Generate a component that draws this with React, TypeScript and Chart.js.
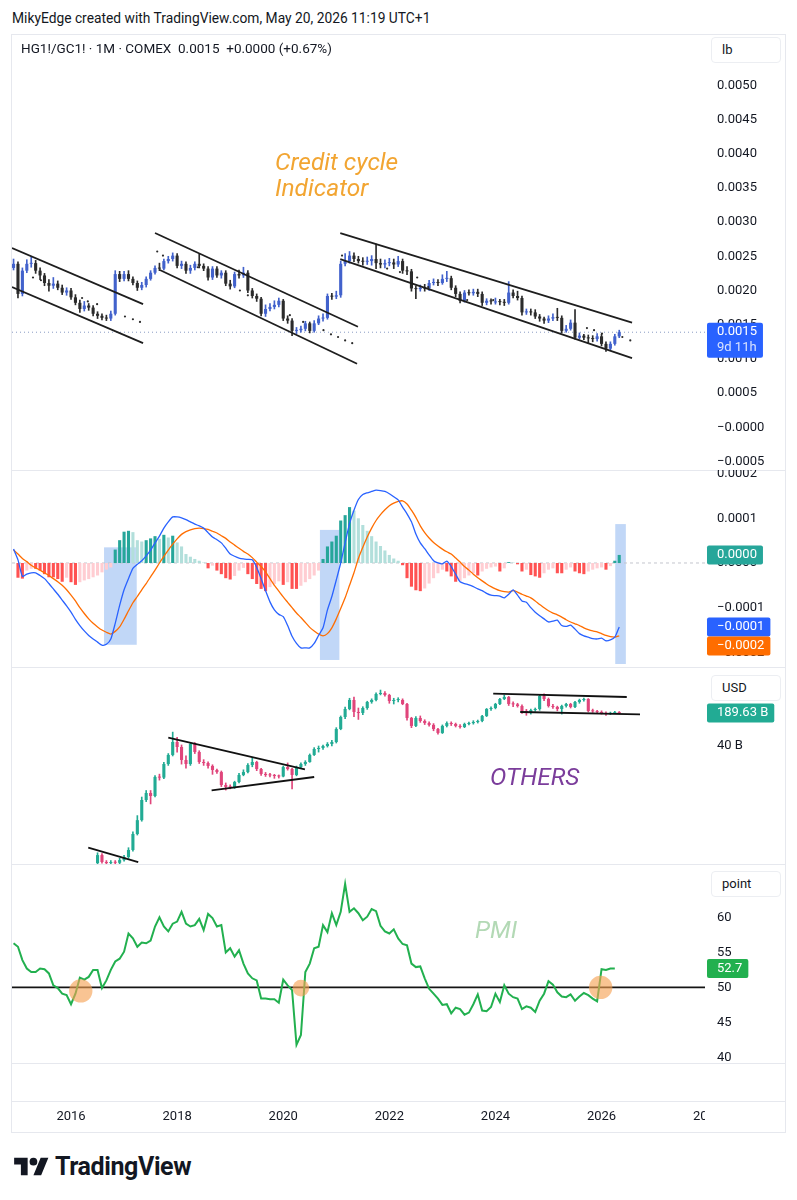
import React, { useEffect, useRef } from 'react';
import { Chart, registerables } from 'chart.js';

Chart.register(...registerables);

// ---------------- time axis: x values are months counted from Jan 2016 ----------------
const X_MIN = -13.35;
const X_MAX = 143.4;
const yearTickMonths = [0, 24, 48, 72, 96, 120, 144];
const yearTickLabels = ['2016', '2018', '2020', '2022', '2024', '2026', '2028'];

// ---------------- pane 1: HG1!/GC1! monthly candles (units of 0.0001) ----------------
const ratioStartMonth = -13; // Dec 2014
const ratioFirstOpen = 23.3;
const ratioClose = [
  23.9, 19.5, 22.9, 23.9, 24.0, 22.9, 22.2, 21.1, 20.7, 21.0, 20.4, 19.7, 20.0,
  19.0, 18.2, 17.3, 17.8, 17.5, 16.6, 16.3, 16.0, 15.9, 16.6, 22.4, 21.7,
  22.4, 21.7, 21.1, 20.4, 20.8, 21.7, 22.6, 23.3, 23.2, 24.3, 24.6, 25.1,
  23.6, 23.9, 22.9, 23.3, 23.9, 23.6, 23.2, 21.9, 23.2, 22.2, 22.6, 21.0,
  20.6, 22.4, 22.2, 22.6, 20.0, 19.2, 18.8, 16.6, 17.3, 17.6, 17.9, 18.5,
  15.9, 15.6, 14.1, 14.2, 14.4, 15.2, 14.1, 15.2, 15.9, 16.0, 19.2, 19.1,
  19.3, 23.9, 24.3, 25.1, 24.6, 24.3, 24.2, 24.3, 24.6, 24.0, 23.8, 24.0,
  24.1, 23.8, 24.3, 22.9, 22.8, 20.3, 20.2, 20.4, 20.3, 21.1, 21.2, 21.1,
  21.7, 21.8, 20.4, 19.5, 18.5, 19.7, 19.6, 19.8, 19.5, 18.2, 18.5, 18.4,
  18.4, 18.3, 18.2, 19.7, 19.2, 18.9, 16.8, 16.9, 16.8, 16.2, 15.9, 15.6,
  15.9, 16.1, 16.0, 14.1, 14.4, 15.3, 13.1, 13.4, 13.1, 13.0, 12.9, 13.3,
  12.2, 11.5, 12.2, 13.3, 13.9,
];
const ratioHigh = [
  24.6, 24.2, 23.3, 24.5, 24.9, 24.4, 23.3, 22.5, 21.6, 21.9, 21.4, 20.8, 20.4,
  20.3, 19.4, 18.6, 18.4, 18.1, 17.8, 16.9, 16.6, 16.4, 17.0, 22.9, 22.8,
  22.8, 22.9, 22.0, 21.4, 21.2, 22.0, 22.9, 23.6, 24.0, 24.6, 25.0, 25.5,
  25.4, 24.3, 24.2, 23.7, 24.2, 25.3, 23.9, 23.5, 23.5, 23.5, 22.9, 22.9,
  21.5, 22.7, 23.0, 23.4, 22.9, 20.3, 19.5, 19.0, 17.9, 18.1, 18.5, 18.9,
  18.7, 16.3, 15.9, 14.6, 14.8, 15.5, 15.4, 15.6, 16.3, 16.6, 19.5, 19.6,
  19.9, 24.3, 25.4, 25.7, 25.5, 25.0, 24.8, 24.9, 25.1, 26.8, 24.6, 24.5,
  24.7, 24.6, 25.0, 24.6, 23.5, 23.1, 20.7, 20.8, 20.9, 21.5, 21.7, 21.6,
  22.3, 22.8, 22.1, 20.7, 19.8, 20.0, 20.1, 20.2, 20.2, 19.8, 18.8, 18.8,
  18.9, 18.7, 18.7, 21.3, 20.1, 19.9, 19.2, 17.3, 17.3, 17.2, 16.5, 16.1,
  16.3, 16.6, 17.4, 16.3, 14.9, 15.7, 17.2, 13.8, 13.6, 13.5, 13.4, 13.7,
  13.6, 12.5, 12.5, 13.6, 14.2,
];
const ratioLow = [
  23.0, 18.9, 19.2, 22.6, 23.4, 22.5, 21.6, 20.7, 19.9, 20.3, 20.1, 19.4, 19.3,
  18.7, 17.9, 16.8, 17.0, 17.1, 16.3, 15.9, 15.7, 15.6, 15.6, 16.4, 21.3,
  21.4, 21.4, 20.8, 20.0, 20.1, 20.5, 21.5, 22.4, 22.9, 23.0, 24.0, 24.3,
  23.3, 23.2, 22.5, 22.5, 23.0, 23.3, 22.9, 21.5, 21.6, 21.9, 21.8, 20.7,
  20.2, 20.4, 21.8, 21.9, 19.7, 18.9, 18.4, 16.3, 16.2, 17.0, 17.3, 17.6,
  15.6, 15.2, 13.4, 13.7, 13.9, 14.1, 13.8, 13.9, 15.0, 15.5, 15.8, 18.7,
  18.8, 19.0, 23.6, 24.0, 24.2, 24.0, 23.7, 23.8, 23.7, 23.2, 23.3, 23.3,
  23.6, 23.2, 23.5, 22.5, 22.3, 19.9, 18.8, 19.9, 19.9, 20.0, 20.8, 20.7,
  20.9, 21.3, 20.1, 19.1, 18.2, 18.3, 19.3, 19.3, 19.1, 17.8, 17.9, 18.0,
  18.0, 17.9, 17.8, 18.0, 18.9, 18.6, 16.4, 16.5, 16.4, 15.9, 15.5, 15.2,
  15.3, 15.6, 15.6, 13.8, 13.9, 14.2, 12.9, 12.9, 12.8, 12.3, 12.5, 12.6,
  11.9, 11.1, 11.2, 12.0, 13.1,
];
// small dots drawn on the price pane [month, value]
const ratioDotMonths = [-8.6, -6.8, 2.5, 3.8, 5.9, 12.2, 14.0, 15.6, 19.5, 20.8, 28.7, 38.2, 40.0, 49.5, 52.5, 57.1, 58.8, 60.4, 62.0, 63.6, 61.3, 71.5, 74.4, 78.3, 80.8, 89.6, 95.5, 116.7, 118.3, 120.1, 124.7, 126.5];
const ratioDotValues = [21.9, 21.5, 18.9, 18.4, 18.0, 16.2, 15.8, 15.4, 25.7, 25.1, 23.4, 20.0, 19.3, 16.4, 15.4, 14.2, 13.6, 13.2, 12.7, 12.3, 25.1, 23.2, 22.7, 21.9, 20.5, 18.6, 18.6, 14.5, 14.2, 13.7, 13.2, 12.7];
// channel lines [month1, value1, month2, value2]
const ratioChannels = [
  [-13.35, 26.2, 16.3, 18.0],
  [-13.35, 20.5, 16.3, 12.3],
  [19.0, 28.4, 64.9, 14.7],
  [20.1, 23.0, 64.7, 9.3],
  [60.9, 28.4, 126.9, 15.3],
  [60.9, 24.6, 126.9, 10.1],
];
const ratioTicks = [-5, 0, 5, 10, 15, 20, 25, 30, 35, 40, 45, 50];
const ratioLastLabel = '0.0015';
const ratioCountdown = '9d 11h';

// ---------------- pane 2: MACD (units of 0.0001) ----------------
const macdStartMonth = -13;
const macdLine = [
  0.31, 0.07, -0.30, -0.25, -0.22, -0.22, -0.28, -0.35, -0.46, -0.58, -0.70, -0.83, -0.96,
  -1.10, -1.26, -1.40, -1.52, -1.62, -1.70, -1.77, -1.84, -1.82, -1.70, -1.35, -0.95,
  -0.60, -0.35, -0.12, -0.03, 0.05, 0.16, 0.29, 0.45, 0.60, 0.78, 0.92, 1.03,
  1.03, 1.01, 0.97, 0.92, 0.87, 0.83, 0.78, 0.68, 0.58, 0.52, 0.45, 0.33,
  0.20, 0.15, 0.11, 0.09, 0.08, 0.07, -0.10, -0.35, -0.62, -0.87, -1.05, -1.15,
  -1.20, -1.40, -1.64, -1.80, -1.90, -1.90, -1.90, -1.80, -1.62, -1.45, -1.05, -0.75,
  -0.38, 0.00, 0.45, 0.88, 1.18, 1.42, 1.53, 1.57, 1.60, 1.63, 1.62, 1.60,
  1.55, 1.48, 1.41, 1.25, 1.10, 0.92, 0.65, 0.45, 0.32, 0.18, 0.05, 0.00,
  -0.02, 0.04, -0.08, -0.25, -0.42, -0.46, -0.49, -0.53, -0.58, -0.62, -0.68, -0.72,
  -0.73, -0.74, -0.78, -0.70, -0.60, -0.72, -0.85, -0.88, -1.00, -1.10, -1.18, -1.25,
  -1.32, -1.30, -1.28, -1.40, -1.42, -1.39, -1.48, -1.58, -1.63, -1.66, -1.69, -1.70,
  -1.68, -1.74, -1.72, -1.66, -1.43,
];
const macdSignal = [
  0.29, 0.20, 0.10, 0.03, -0.05, -0.11, -0.16, -0.22, -0.28, -0.35, -0.42, -0.50, -0.60,
  -0.72, -0.85, -1.00, -1.13, -1.25, -1.35, -1.43, -1.50, -1.55, -1.59, -1.53, -1.43,
  -1.26, -1.07, -0.89, -0.75, -0.60, -0.46, -0.31, -0.16, 0.00, 0.15, 0.29, 0.42,
  0.54, 0.64, 0.70, 0.74, 0.77, 0.78, 0.77, 0.75, 0.71, 0.67, 0.61, 0.55,
  0.47, 0.40, 0.33, 0.26, 0.20, 0.12, 0.02, -0.08, -0.20, -0.35, -0.50, -0.63,
  -0.76, -0.88, -1.00, -1.12, -1.22, -1.33, -1.44, -1.52, -1.59, -1.63, -1.58, -1.45,
  -1.25, -1.02, -0.78, -0.50, -0.22, 0.10, 0.35, 0.58, 0.78, 0.95, 1.08, 1.19,
  1.28, 1.34, 1.38, 1.39, 1.32, 1.18, 1.02, 0.83, 0.68, 0.56, 0.46, 0.38,
  0.31, 0.25, 0.20, 0.11, 0.02, -0.08, -0.16, -0.25, -0.33, -0.40, -0.47, -0.53,
  -0.58, -0.62, -0.64, -0.65, -0.62, -0.65, -0.70, -0.74, -0.78, -0.85, -0.93, -1.00,
  -1.07, -1.12, -1.16, -1.21, -1.27, -1.32, -1.36, -1.40, -1.45, -1.49, -1.52, -1.54,
  -1.58, -1.62, -1.65, -1.66, -1.63,
];
const macdHist = [
  0.00, -0.33, -0.35, -0.17, -0.13, -0.13, -0.17, -0.25, -0.32, -0.32, -0.36, -0.42, -0.33,
  -0.43, -0.49, -0.43, -0.39, -0.36, -0.32, -0.28, -0.21, -0.15, -0.10, 0.30, 0.51,
  0.70, 0.72, 0.69, 0.51, 0.48, 0.51, 0.55, 0.60, 0.54, 0.63, 0.57, 0.61,
  0.46, 0.37, 0.20, 0.14, 0.09, 0.05, 0.01, -0.12, -0.06, -0.17, -0.25, -0.34,
  -0.37, -0.29, -0.17, -0.11, -0.25, -0.36, -0.47, -0.58, -0.63, -0.54, -0.47, -0.41,
  -0.49, -0.43, -0.58, -0.58, -0.51, -0.43, -0.36, -0.28, -0.17, 0.09, 0.37, 0.48,
  0.61, 0.95, 1.07, 1.25, 1.17, 1.00, 0.85, 0.72, 0.60, 0.48, 0.38, 0.28,
  0.18, 0.10, 0.05, -0.05, -0.34, -0.53, -0.61, -0.63, -0.57, -0.46, -0.34, -0.23,
  -0.15, -0.19, -0.30, -0.42, -0.40, -0.34, -0.28, -0.23, -0.28, -0.19, -0.13, -0.10,
  -0.08, -0.19, -0.12, 0.02, 0.01, -0.03, -0.19, -0.15, -0.27, -0.30, -0.33, -0.23,
  -0.15, -0.12, -0.23, -0.23, -0.15, -0.10, -0.19, -0.23, -0.25, -0.19, -0.15, -0.12,
  -0.10, -0.15, -0.07, 0.05, 0.18,
];
// highlighted zones [fromMonth, toMonth, topValue, bottomValue]
const macdZones = [
  [7.47, 14.86, 0.35, -1.83],
  [56.3, 60.7, 0.74, -2.17],
  [123.1, 125.5, 0.87, -2.26],
];
const macdTicks = [-2, -1, 0, 1, 2];

// ---------------- pane 3: OTHERS market cap (billions USD, log scale) ----------------
const othersStartMonth = 6; // Jul 2016
const othersFirstOpen = 0.16;
const othersClose = [
  0.233, 0.168, 0.160, 0.165, 0.162, 0.184,
  0.213, 0.296, 0.63, 1.21, 3.13, 4.36, 3.78, 9.3, 9.0, 17.1, 26.2, 48.3,
  38.1, 20.7, 17.1, 43.9, 30.1, 18.8, 17.9, 15.6, 12.9, 11.7, 6.35, 5.8,
  5.7, 7.3, 10.2, 11.7, 16.3, 18.8, 13.5, 10.7, 10.2, 10.0, 9.7, 9.5,
  14.8, 13.5, 10.2, 14.8, 17.1, 18.8, 26.2, 34.7, 36.4, 40.0, 43.9, 48.3,
  89, 157, 229, 350, 199, 190, 240, 319, 350, 465, 487, 443,
  334, 350, 350, 290, 150, 103, 150, 130, 118, 108, 89, 74,
  103, 118, 113, 103, 98, 113, 118, 124, 130, 165, 229, 240,
  290, 367, 403, 290, 285, 264, 208, 190, 218, 229, 423, 367,
  264, 252, 229, 264, 290, 252, 319, 350, 367, 208, 205, 199,
  190, 181, 190, 199, 189.63,
];
const othersHigh = [
  0.26, 0.25, 0.18, 0.18, 0.18, 0.20,
  0.23, 0.33, 0.70, 1.5, 3.6, 4.9, 4.9, 9.9, 10.6, 18.5, 28, 77,
  60, 42, 25, 46, 47, 32, 21, 19, 16.5, 13.5, 12.3, 7.0,
  6.4, 7.6, 11, 13, 17.5, 23, 19.5, 14, 11.5, 11.0, 10.5, 10.2,
  15.5, 18, 14, 15.5, 18, 20, 27.5, 37, 40, 42, 47, 52,
  95, 165, 250, 380, 400, 240, 255, 330, 370, 490, 560, 520,
  460, 380, 390, 370, 300, 155, 160, 165, 138, 125, 115, 92,
  108, 125, 125, 118, 110, 118, 124, 132, 136, 170, 235, 255,
  300, 380, 440, 415, 320, 300, 280, 225, 228, 240, 440, 470,
  385, 285, 262, 275, 300, 300, 330, 365, 385, 375, 228, 215,
  210, 200, 198, 205, 203,
];
const othersLow = [
  0.15, 0.16, 0.14, 0.15, 0.15, 0.155,
  0.175, 0.2, 0.28, 0.6, 1.15, 2.9, 2.6, 3.6, 8.0, 8.6, 16, 25,
  30, 17, 14, 16, 28, 17.5, 16, 14, 10.5, 11, 5.9, 5.0,
  5.3, 5.4, 7.0, 9.8, 11.2, 15, 12.5, 10, 9.5, 9.3, 8.7, 8.8,
  9.3, 12.8, 5.3, 9.8, 14, 16, 18.5, 25.5, 30, 34, 38, 40,
  46, 86, 145, 220, 160, 140, 175, 225, 300, 335, 445, 420,
  300, 290, 320, 280, 135, 95, 100, 122, 110, 102, 82, 70,
  72, 98, 105, 98, 93, 95, 108, 112, 118, 125, 160, 215,
  230, 280, 355, 270, 255, 250, 185, 170, 180, 205, 215, 340,
  250, 235, 210, 180, 250, 240, 245, 300, 330, 200, 195, 188,
  180, 170, 175, 185, 184,
];
const othersLines = [
  [3.9, 0.33, 15.2, 0.168],
  [22.0, 59.2, 52.9, 13.3],
  [31.8, 4.95, 55.0, 9.26],
  [95.5, 471, 125.7, 403],
  [101.6, 198.8, 128.7, 178.4],
];
const othersTicks = [40];

// ---------------- pane 4: PMI ----------------
const pmiStartMonth = -13;
const pmiValues = [
  56.3, 55.8, 53.9, 52.7, 52.2, 52.2, 52.7, 52.6, 52.0, 50.3, 49.9, 49.1, 48.9,
  47.6, 49.1, 51.4, 51.1, 51.5, 52.5, 52.5, 49.9, 51.0, 52.5, 53.7, 54.1,
  55.1, 57.7, 57.0, 55.8, 56.4, 56.3, 56.7, 58.7, 60.0, 58.7, 58.0, 59.1,
  59.4, 60.8, 59.1, 58.7, 58.9, 59.8, 58.2, 60.5, 59.9, 58.7, 58.9, 55.0,
  55.6, 54.4, 55.3, 53.4, 52.0, 51.3, 51.0, 48.4, 48.4, 48.3, 48.3, 47.8,
  51.1, 50.3, 49.6, 41.8, 43.2, 52.2, 53.4, 55.6, 55.8, 58.9, 57.9, 60.6,
  58.9, 60.8, 64.8, 60.8, 61.3, 60.6, 59.6, 60.1, 61.2, 60.9, 58.8, 58.0,
  57.7, 58.3, 57.0, 56.2, 56.0, 53.4, 52.9, 53.0, 51.3, 49.8, 49.1, 48.4,
  47.5, 47.6, 46.3, 47.1, 46.9, 46.1, 46.4, 47.6, 49.0, 46.7, 46.6, 47.2,
  49.1, 47.9, 50.3, 49.1, 48.6, 48.4, 46.9, 47.3, 47.1, 46.5, 48.1, 49.1,
  50.9, 50.4, 49.3, 48.7, 48.6, 49.0, 48.1, 48.7, 49.2, 48.9, 48.4, 48.0,
  52.6, 52.5, 52.7, 52.7,
];
const pmiLevel = 50;
// highlighted circles [month, value, radius]
const pmiCircles = [
  [2.2, 49.5, 11.7],
  [52.0, 49.9, 8.3],
  [119.8, 50.0, 11.7],
];
const pmiTicks = [40, 45, 50, 55, 60];

// ---------------- styles ----------------
const TEXT = '#131722';
const FONT = 'Roboto, "Noto Sans", sans-serif';
const RATIO_UP = '#4262cc';
const RATIO_DOWN = '#2b2b2b';
const OTHERS_UP = '#22ab94';
const OTHERS_DOWN = '#e0457b';
const PMI_GREEN = '#22b04f';

function candleSets(start, firstOpen, close, high, low, up, down) {
  const open = close.map((_, i) => (i === 0 ? firstOpen : close[i - 1]));
  const colors = close.map((c, i) => (c >= open[i] ? up : down));
  return [
    {
      type: 'bar',
      data: close.map((_, i) => ({ x: start + i, y: [low[i], high[i]] })),
      backgroundColor: colors,
      grouped: false,
      barPercentage: 1,
      categoryPercentage: 1,
      maxBarThickness: 1,
      borderWidth: 0,
      order: 4,
    },
    {
      type: 'bar',
      data: close.map((c, i) => ({ x: start + i, y: [open[i], c] })),
      backgroundColor: colors,
      grouped: false,
      barPercentage: 0.7,
      categoryPercentage: 1,
      minBarLength: 1,
      borderWidth: 0,
      order: 3,
    },
  ];
}

function segmentSets(segs, color, width) {
  return segs.map((s) => ({
    type: 'line',
    data: [{ x: s[0], y: s[1] }, { x: s[2], y: s[3] }],
    borderColor: color,
    borderWidth: width,
    pointRadius: 0,
    order: 0,
  }));
}

function fmt4(v, minusZero) {
  const s = (Math.abs(v) / 1e4).toFixed(4);
  if (v < 0 || (minusZero && v === 0)) return '\u2212' + s;
  return s;
}

function xScale() {
  return {
    type: 'linear',
    min: X_MIN,
    max: X_MAX,
    display: false,
    offset: false,
    grid: { display: false, offset: false },
    afterBuildTicks: (s) => {
      s.ticks = yearTickMonths.filter((m) => m <= X_MAX).map((v) => ({ value: v }));
    },
  };
}

function yScale(extra, tickValues, formatter) {
  return {
    position: 'right',
    grid: { display: false, drawTicks: false },
    border: { display: false },
    ticks: {
      color: TEXT,
      font: { family: FONT, size: 13 },
      padding: 12,
      autoSkip: false,
      callback: (v) => formatter(v),
    },
    afterBuildTicks: (s) => {
      s.ticks = tickValues.map((v) => ({ value: v }));
    },
    afterFit: (s) => {
      s.width = 81;
      s.paddingTop = 0;
      s.paddingBottom = 0;
    },
    ...extra,
  };
}

function baseOptions(y, bottomPad) {
  return {
    responsive: false,
    maintainAspectRatio: false,
    animation: false,
    events: [],
    layout: { autoPadding: false, padding: { left: 12, right: 11, top: 0, bottom: bottomPad || 0 } },
    plugins: { legend: { display: false }, tooltip: { enabled: false } },
    scales: { x: xScale(), y },
  };
}

function makeLabelsPlugin(labels) {
  return {
    id: 'axisLabels',
    afterDraw(chart) {
      const { ctx } = chart;
      const ys = chart.scales.y;
      ctx.save();
      ctx.font = `13px ${FONT}`;
      ctx.textBaseline = 'middle';
      ctx.textAlign = 'left';
      let prevBottom = -Infinity;
      labels.forEach((l) => {
        const yp = ys.getPixelForValue(l.value);
        const h = 19 + (l.lines.length - 1) * 16;
        let top = yp - 9.5;
        if (top < prevBottom) top = prevBottom;
        const w = Math.max(...l.lines.map((t) => ctx.measureText(t).width)) + 16;
        ctx.fillStyle = l.bg;
        ctx.beginPath();
        ctx.roundRect(707, top, w, h, 2);
        ctx.fill();
        l.lines.forEach((t, i) => {
          ctx.fillStyle = i === 0 ? '#ffffff' : 'rgba(255,255,255,0.82)';
          ctx.fillText(t, 717, top + 9.5 + i * 16);
        });
        prevBottom = top + h;
      });
      ctx.restore();
    },
  };
}

function makeZonesPlugin(zones) {
  return {
    id: 'zones',
    beforeDatasetsDraw(chart) {
      const { ctx, chartArea, scales } = chart;
      ctx.save();
      ctx.beginPath();
      ctx.rect(chartArea.left, chartArea.top, chartArea.right - chartArea.left, chartArea.bottom - chartArea.top);
      ctx.clip();
      ctx.fillStyle = 'rgba(84,144,232,0.36)';
      zones.forEach((z) => {
        const x1 = scales.x.getPixelForValue(z[0]);
        const x2 = scales.x.getPixelForValue(z[1]);
        const y1 = scales.y.getPixelForValue(z[2]);
        const y2 = scales.y.getPixelForValue(z[3]);
        ctx.fillRect(x1, y1, x2 - x1, y2 - y1);
      });
      ctx.restore();
    },
  };
}

const timeLabelsPlugin = {
  id: 'timeLabels',
  afterDraw(chart) {
    const { ctx, chartArea, scales } = chart;
    ctx.save();
    ctx.beginPath();
    ctx.rect(chartArea.left, chartArea.bottom, chartArea.right - chartArea.left, chart.height - chartArea.bottom);
    ctx.clip();
    ctx.font = `13px ${FONT}`;
    ctx.fillStyle = TEXT;
    ctx.textAlign = 'center';
    ctx.textBaseline = 'middle';
    yearTickMonths.forEach((m, i) => {
      ctx.fillText(yearTickLabels[i], scales.x.getPixelForValue(m), chart.height - 16);
    });
    ctx.restore();
  },
};

function ratioConfig() {
  const last = ratioClose[ratioClose.length - 1];
  return {
    type: 'bar',
    data: {
      datasets: [
        ...candleSets(ratioStartMonth, ratioFirstOpen, ratioClose, ratioHigh, ratioLow, RATIO_UP, RATIO_DOWN),
        ...segmentSets(ratioChannels, '#1e1e1e', 1.8),
        {
          type: 'line',
          data: ratioDotMonths.map((m, i) => ({ x: m, y: ratioDotValues[i] })),
          showLine: false,
          pointRadius: 1.1,
          pointBackgroundColor: '#2a2a2a',
          pointBorderWidth: 0,
          order: 1,
        },
        {
          type: 'line',
          data: [{ x: X_MIN, y: last }, { x: X_MAX, y: last }],
          borderColor: '#8a9bc4',
          borderWidth: 1,
          borderDash: [1, 3],
          pointRadius: 0,
          order: 5,
        },
      ],
    },
    options: baseOptions(
      yScale({ type: 'linear', min: -6.24, max: 57.35 }, ratioTicks, (v) => fmt4(v, true)),
    ),
    plugins: [makeLabelsPlugin([{ value: last, lines: [ratioLastLabel, ratioCountdown], bg: '#2962ff' }])],
  };
}

function macdConfig() {
  const histColors = macdHist.map((v, i) => {
    const prev = i > 0 ? macdHist[i - 1] : 0;
    if (v >= 0) return v >= prev ? '#26a69a' : '#b2dfdb';
    return v <= prev ? '#ff5252' : '#ffcdd2';
  });
  const lastH = macdHist[macdHist.length - 1];
  const lastM = macdLine[macdLine.length - 1];
  const lastS = macdSignal[macdSignal.length - 1];
  return {
    type: 'bar',
    data: {
      datasets: [
        {
          type: 'line',
          data: [{ x: X_MIN, y: 0 }, { x: X_MAX, y: 0 }],
          borderColor: '#c3c6ce',
          borderWidth: 1,
          borderDash: [3, 3],
          pointRadius: 0,
          order: 6,
        },
        {
          type: 'bar',
          data: macdHist.map((v, i) => ({ x: macdStartMonth + i, y: v })),
          backgroundColor: histColors,
          grouped: false,
          barPercentage: 0.7,
          categoryPercentage: 1,
          borderWidth: 0,
          order: 3,
        },
        {
          type: 'line',
          data: macdSignal.map((v, i) => ({ x: macdStartMonth + i, y: v })),
          borderColor: '#ff6d00',
          borderWidth: 1.3,
          pointRadius: 0,
          tension: 0.2,
          order: 1,
        },
        {
          type: 'line',
          data: macdLine.map((v, i) => ({ x: macdStartMonth + i, y: v })),
          borderColor: '#2962ff',
          borderWidth: 1.3,
          pointRadius: 0,
          tension: 0.2,
          order: 0,
        },
      ],
    },
    options: baseOptions(
      yScale({ type: 'linear', min: -2.327, max: 2.08 }, macdTicks, (v) => fmt4(v, false)),
    ),
    plugins: [
      makeZonesPlugin(macdZones),
      makeLabelsPlugin([
        { value: lastH, lines: [fmt4(Math.round(lastH) === 0 ? 0 : lastH, false)], bg: '#26a69a' },
        { value: lastM, lines: [fmt4(lastM, false)], bg: '#2962ff' },
        { value: lastS, lines: [fmt4(lastS, false)], bg: '#ff6d00' },
      ]),
    ],
  };
}

function othersConfig() {
  const last = othersClose[othersClose.length - 1];
  return {
    type: 'bar',
    data: {
      datasets: [
        ...candleSets(othersStartMonth, othersFirstOpen, othersClose, othersHigh, othersLow, OTHERS_UP, OTHERS_DOWN),
        ...segmentSets(othersLines, '#111111', 1.8),
      ],
    },
    options: baseOptions(
      yScale({ type: 'logarithmic', min: 0.153, max: 1660 }, othersTicks, (v) => `${v} B`),
    ),
    plugins: [makeLabelsPlugin([{ value: last, lines: [`${last.toFixed(2)} B`], bg: OTHERS_UP }])],
  };
}

function pmiConfig() {
  const last = pmiValues[pmiValues.length - 1];
  return {
    type: 'line',
    data: {
      datasets: [
        {
          type: 'bubble',
          data: pmiCircles.map((c) => ({ x: c[0], y: c[1], r: c[2] })),
          backgroundColor: 'rgba(245,160,80,0.62)',
          borderWidth: 0,
          order: 0,
        },
        {
          type: 'line',
          data: pmiValues.map((v, i) => ({ x: pmiStartMonth + i, y: v })),
          borderColor: PMI_GREEN,
          borderWidth: 2,
          pointRadius: 0,
          order: 1,
        },
        {
          type: 'line',
          data: [{ x: X_MIN, y: pmiLevel }, { x: X_MAX, y: pmiLevel }],
          borderColor: '#141414',
          borderWidth: 1.6,
          pointRadius: 0,
          order: 2,
        },
      ],
    },
    options: baseOptions(
      yScale({ type: 'linear', min: 39.2, max: 67.63 }, pmiTicks, (v) => String(v)),
      70,
    ),
    plugins: [makeLabelsPlugin([{ value: last, lines: [last.toFixed(1)], bg: PMI_GREEN }]), timeLabelsPlugin],
  };
}

const hLine = (top) => (
  <div key={top} style={{ position: 'absolute', left: 11, top, width: 775, height: 1, background: '#e6e8ee' }} />
);

const unitBox = (text, top) => (
  <div
    style={{
      position: 'absolute', left: 711, top, width: 70, height: 26, boxSizing: 'border-box',
      border: '1px solid #eceef2', borderRadius: 4, background: '#fff',
      font: `13px ${FONT}`, color: TEXT, lineHeight: '24px', paddingLeft: 10,
    }}
  >
    {text}
  </div>
);

export default function App() {
  const c1 = useRef(null);
  const c2 = useRef(null);
  const c3 = useRef(null);
  const c4 = useRef(null);

  useEffect(() => {
    const charts = [
      new Chart(c1.current, ratioConfig()),
      new Chart(c2.current, macdConfig()),
      new Chart(c3.current, othersConfig()),
      new Chart(c4.current, pmiConfig()),
    ];
    return () => charts.forEach((c) => c.destroy());
  }, []);

  const italic = (color) => ({
    position: 'absolute', font: `italic 400 24.5px ${FONT}`, color, lineHeight: '26px', whiteSpace: 'pre',
  });

  return (
    <div style={{ position: 'absolute', left: 0, top: 0, width: 797, height: 1200, background: '#fff', overflow: 'hidden', fontFamily: FONT }}>
      <div style={{ position: 'absolute', left: 12, top: 9, font: `13.8px ${FONT}`, color: TEXT, lineHeight: '18px', whiteSpace: 'nowrap' }}>
        MikyEdge created with TradingView.com, May 20, 2026 11:19 UTC+1
      </div>
      <div style={{ position: 'absolute', left: 11, top: 34, width: 775, height: 1099, boxSizing: 'border-box', border: '1px solid #e6e8ee' }} />
      {[470, 667, 864, 1063, 1101].map(hLine)}

      <canvas ref={c1} width={797} height={435} style={{ position: 'absolute', left: 0, top: 35 }} />
      <canvas ref={c2} width={797} height={197} style={{ position: 'absolute', left: 0, top: 470 }} />
      <canvas ref={c3} width={797} height={197} style={{ position: 'absolute', left: 0, top: 667 }} />
      <canvas ref={c4} width={797} height={269} style={{ position: 'absolute', left: 0, top: 864 }} />

      <div style={{ position: 'absolute', left: 21, top: 39, font: `13.5px ${FONT}`, color: TEXT, lineHeight: '18px', whiteSpace: 'pre' }}>
        {'HG1!/GC1! · 1M · COMEX  0.0015  +0.0000 (+0.67%)'}
      </div>
      {unitBox('lb', 37)}
      {unitBox('USD', 675)}
      {unitBox('point', 871)}

      <div style={{ ...italic('#f2a532'), left: 275, top: 149 }}>{'Credit cycle\nIndicator'}</div>
      <div style={{ ...italic('#7b3d9b'), left: 490, top: 764 }}>OTHERS</div>
      <div style={{ ...italic('#b3d9b5'), left: 475, top: 917 }}>PMI</div>

      <svg style={{ position: 'absolute', left: 14, top: 1154 }} width={35} height={27} viewBox="0 0 36 28">
        <path d="M14 22H7V11H0V4h14v18zM28 22h-8l7.5-18h8L28 22z" fill="#131722" />
        <circle cx="20" cy="8" r="4" fill="#131722" />
      </svg>
      <div style={{ position: 'absolute', left: 55, top: 1152, font: `700 25px ${FONT}`, color: TEXT, lineHeight: '30px', letterSpacing: '-0.4px' }}>
        TradingView
      </div>
    </div>
  );
}
